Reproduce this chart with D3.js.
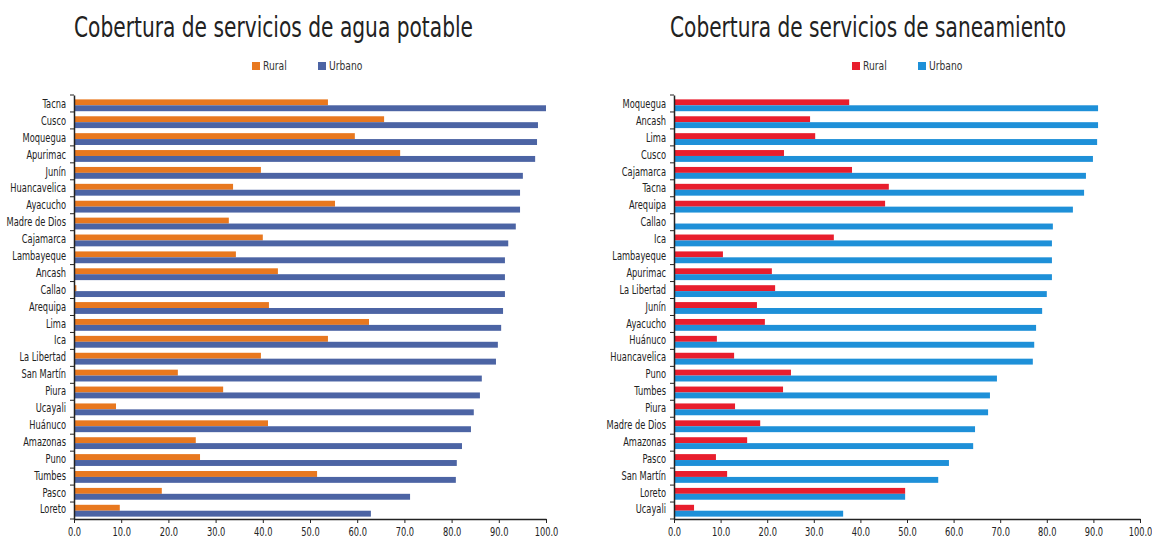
<!DOCTYPE html>
<html>
<head>
<meta charset="utf-8">
<script src="https://d3js.org/d3.v7.min.js"></script>
<style>
  body { margin: 0; background: #fff; }
  svg text { font-family: "Liberation Sans Narrow", "DejaVu Sans Condensed", "Liberation Sans", sans-serif; }
</style>
</head>
<body>
<svg id="chart" width="1152" height="539"></svg>
<script>
// --- agua potable ---
const aguaRegions = ["Tacna", "Cusco", "Moquegua", "Apurimac", "Junín", "Huancavelica", "Ayacucho",
  "Madre de Dios", "Cajamarca", "Lambayeque", "Ancash", "Callao", "Arequipa", "Lima", "Ica",
  "La Libertad", "San Martín", "Piura", "Ucayali", "Huánuco", "Amazonas", "Puno", "Tumbes", "Pasco", "Loreto"];
const aguaRural  = [53.8, 65.7, 59.5, 69.1, 39.6, 33.7, 55.3, 32.8, 40.0, 34.3, 43.2, 0.5, 41.3, 62.5, 53.8,
  39.6, 22.0, 31.6, 8.9, 41.1, 25.8, 26.7, 51.5, 18.6, 9.7];
const aguaUrbano = [100.0, 98.3, 98.1, 97.7, 95.1, 94.5, 94.5, 93.6, 92.0, 91.3, 91.3, 91.3, 90.9, 90.5, 89.8,
  89.4, 86.4, 86.0, 84.7, 84.1, 82.2, 81.1, 80.9, 71.2, 62.9];

// --- saneamiento ---
const saneRegions = ["Moquegua", "Ancash", "Lima", "Cusco", "Cajamarca", "Tacna", "Arequipa", "Callao", "Ica",
  "Lambayeque", "Apurimac", "La Libertad", "Junín", "Ayacucho", "Huánuco", "Huancavelica", "Puno", "Tumbes",
  "Piura", "Madre de Dios", "Amazonas", "Pasco", "San Martín", "Loreto", "Ucayali"];
const saneRural  = [37.6, 29.2, 30.3, 23.6, 38.2, 46.1, 45.3, 0, 34.3, 10.5, 21.0, 21.7, 17.8, 19.5, 9.2, 12.9,
  25.1, 23.4, 13.1, 18.5, 15.7, 9.0, 11.4, 49.6, 4.3];
const saneUrbano = [91.0, 91.0, 90.8, 89.9, 88.4, 88.0, 85.6, 81.3, 81.1, 81.1, 81.1, 80.0, 79.0, 77.7, 77.3, 77.0,
  69.3, 67.8, 67.4, 64.6, 64.2, 59.0, 56.7, 49.6, 36.3];

const xTicks = [0, 10, 20, 30, 40, 50, 60, 70, 80, 90, 100];
const series = ["Rural", "Urbano"];

const svg = d3.select("#chart");

// squeeze text horizontally, the original uses a narrow face
function squeeze(sel, k) {
  sel.each(function() {
    const w = this.getComputedTextLength();
    d3.select(this).attr("textLength", w * k).attr("lengthAdjust", "spacingAndGlyphs");
  });
}

function drawChart(cfg) {
  const g = svg.append("g");
  const x = d3.scaleLinear().domain([0, 100]).range([cfg.x0, cfg.x1]);
  const y = d3.scaleBand().domain(cfg.regions).range([95, 519]).paddingInner(0.3).paddingOuter(0.2);
  const sub = d3.scaleBand().domain(series).range([0, y.bandwidth()]);

  // title
  g.append("text")
    .attr("x", cfg.titleX).attr("y", 37)
    .attr("textLength", cfg.titleW).attr("lengthAdjust", "spacingAndGlyphs")
    .style("font-size", "29px").style("fill", "#222")
    .text(cfg.title);

  // legend
  series.forEach((s, i) => {
    const lx = cfg.x0 + 178 + i * 66;
    g.append("rect").attr("x", lx).attr("y", 62).attr("width", 8).attr("height", 8)
      .attr("fill", cfg.colors[i]);
    g.append("text").attr("x", lx + 11).attr("y", 70)
      .style("font-size", "12px").style("fill", "#333").text(s)
      .call(squeeze, 0.85);
  });

  // bars
  const rows = cfg.regions.map((r, i) => ({ region: r, Rural: cfg.rural[i], Urbano: cfg.urbano[i] }));
  series.forEach((s, si) => {
    g.selectAll(".bar-" + s)
      .data(rows)
      .enter()
      .append("rect")
      .attr("x", x(0))
      .attr("y", d => y(d.region) + sub(s) + 1)
      .attr("width", d => x(d[s]) - x(0))
      .attr("height", sub.bandwidth())
      .attr("fill", cfg.colors[si]);
  });

  // y axis
  const yAxis = g.append("g")
    .attr("transform", "translate(" + cfg.x0 + ",0)")
    .call(d3.axisLeft(y).tickSize(0).tickPadding(8).tickSizeOuter(0));
  yAxis.select(".domain").attr("stroke", "#222").attr("stroke-width", 1.5);
  yAxis.selectAll("text").style("font-size", "11.5px").style("fill", "#222").call(squeeze, 0.8);
  const bounds = d3.range(cfg.regions.length + 1).map(i => 95 + i * (424 / cfg.regions.length));
  yAxis.selectAll(".btick").data(bounds).enter().append("line")
    .attr("x1", -4).attr("x2", 0).attr("y1", d => d).attr("y2", d => d)
    .attr("stroke", "#222");

  // x axis
  const xAxis = g.append("g")
    .attr("transform", "translate(0,519)")
    .call(d3.axisBottom(x).tickValues(xTicks).tickFormat(d3.format(".1f")).tickSize(4).tickSizeOuter(0));
  xAxis.select(".domain").attr("stroke", "#222").attr("stroke-width", 1.5);
  xAxis.selectAll(".tick line").attr("stroke", "#222");
  xAxis.selectAll("text").style("font-size", "11.5px").style("fill", "#222").attr("dy", "0.9em")
    .call(squeeze, 0.8);
}

drawChart({
  title: "Cobertura de servicios de agua potable", titleX: 74, titleW: 399,
  x0: 74, x1: 546, regions: aguaRegions, rural: aguaRural, urbano: aguaUrbano,
  colors: ["#E8781F", "#4C64A4"]
});

drawChart({
  title: "Cobertura de servicios de saneamiento", titleX: 670, titleW: 396,
  x0: 674, x1: 1140, regions: saneRegions, rural: saneRural, urbano: saneUrbano,
  colors: ["#E81E2D", "#1E90D8"]
});
</script>
</body>
</html>
